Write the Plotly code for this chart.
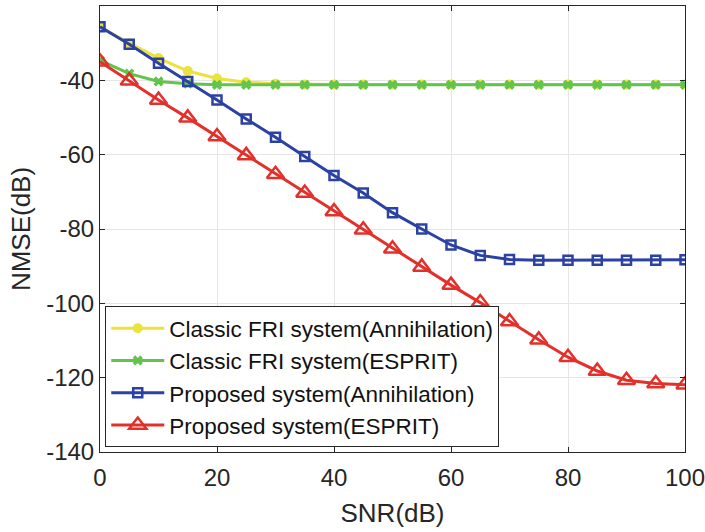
import plotly.graph_objects as go

snr = [0, 5, 10, 15, 20, 25, 30, 35, 40, 45, 50, 55, 60, 65, 70, 75, 80, 85, 90, 95, 100]

classic_annih = [-25.6, -30.0, -34.0, -37.5, -39.5, -40.5, -40.9, -41.1, -41.1, -41.1, -41.1,
                 -41.1, -41.1, -41.1, -41.1, -41.1, -41.1, -41.1, -41.1, -41.1, -41.1]
classic_esprit = [-34.6, -38.2, -40.3, -40.9, -41.2, -41.2, -41.2, -41.2, -41.2, -41.2, -41.2,
                  -41.2, -41.2, -41.2, -41.2, -41.2, -41.2, -41.2, -41.2, -41.2, -41.2]
proposed_annih = [-25.6, -30.3, -35.4, -40.3, -45.3, -50.4, -55.3, -60.5, -65.6, -70.3, -75.6,
                  -80.0, -84.3, -87.1, -88.2, -88.4, -88.4, -88.4, -88.4, -88.4, -88.3]
proposed_esprit = [-35.0, -40.1, -45.3, -50.1, -55.1, -60.2, -65.3, -70.3, -75.3, -80.2, -85.3,
                   -90.2, -95.1, -99.8, -104.9, -109.8, -114.5, -118.2, -120.7, -121.6, -121.9]

x_ticks = [0, 20, 40, 60, 80, 100]
y_ticks = [-140, -120, -100, -80, -60, -40]
y_ticktext = ["-140", "-120", "-100", "-80", "-60", "-40"]

names = ["Classic FRI system(Annihilation)", "Classic FRI system(ESPRIT)",
         "Proposed system(Annihilation)", "Proposed system(ESPRIT)"]

FONT = "Liberation Sans, Arial, sans-serif"

fig = go.Figure()
fig.add_trace(go.Scatter(x=snr, y=classic_annih, name=names[0], mode="lines+markers",
                         line=dict(color="#ECE23C", width=3),
                         marker=dict(symbol="circle", size=10, color="#ECE23C")))
fig.add_trace(go.Scatter(x=snr, y=classic_esprit, name=names[1], mode="lines+markers",
                         line=dict(color="#62C44B", width=3),
                         marker=dict(symbol="x", size=9, color="#62C44B")))
fig.add_trace(go.Scatter(x=snr, y=proposed_annih, name=names[2], mode="lines+markers",
                         line=dict(color="#2B41A3", width=3),
                         marker=dict(symbol="square-open", size=9, color="#2B41A3",
                                     line=dict(width=2.5, color="#2B41A3"))))
fig.add_trace(go.Scatter(x=snr, y=proposed_esprit, name=names[3], mode="lines+markers",
                         line=dict(color="#E3302A", width=3),
                         marker=dict(symbol="triangle-up-open", size=15, color="#E3302A",
                                     line=dict(width=2.5, color="#E3302A"))))

axis_common = dict(showline=True, linecolor="#262626", linewidth=1, mirror="ticks",
                   ticks="inside", ticklen=5, tickcolor="#262626", automargin=False,
                   showgrid=True, gridcolor="#E6E6E6", gridwidth=1, zeroline=False,
                   ticklabeloverflow="allow",
                   tickfont=dict(family=FONT, size=24, color="#262626"),
                   title_font=dict(family=FONT, size=26, color="#262626"))

fig.update_xaxes(range=[0, 100], tickvals=x_ticks, title_text="SNR(dB)",
                 ticklabelstandoff=4, title_standoff=14, **axis_common)
fig.update_yaxes(range=[-140, -20], tickvals=y_ticks, ticktext=y_ticktext,
                 title_text="NMSE(dB)", title_standoff=8, **axis_common)

fig.update_layout(
    width=705, height=532,
    margin=dict(l=100, r=20, t=6, b=80),
    plot_bgcolor="white", paper_bgcolor="white",
    font=dict(family=FONT, color="#262626"),
    legend=dict(x=0.009, y=0.011, xanchor="left", yanchor="bottom",
                bgcolor="white", bordercolor="#262626", borderwidth=1,
                font=dict(family=FONT, size=22.5, color="#111111"),
                tracegroupgap=0, itemwidth=53),
    showlegend=True,
)

fig.write_html("out.html", config={"displayModeBar": False},
               post_script="document.body.style.margin='0';")
